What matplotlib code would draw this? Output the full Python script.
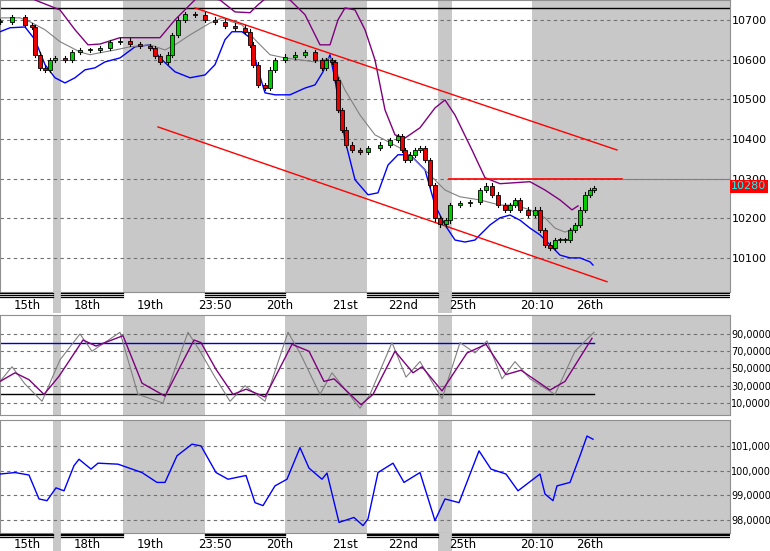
import matplotlib.pyplot as plt
import numpy as np

# x positions are bar slots across the chart (0..730)
px = [0, 12, 25, 32, 35, 40, 45, 50, 55, 65, 72, 80, 90, 100, 110, 120, 130, 140, 150, 155,
      160, 168, 172, 178, 185, 195, 205, 215, 225, 235, 245, 250, 253, 258, 265, 270, 275, 285,
      295, 305, 315, 322, 326, 332, 335, 338, 342, 346, 352, 360, 368, 380, 390, 398, 402, 405,
      410, 415, 420, 425, 430, 435, 440, 446, 450, 460, 470, 480, 486, 492, 498, 505, 510, 515,
      520, 528, 535, 540, 545, 550, 555, 560, 565, 570, 575, 580, 585, 590, 594]
close = [10695, 10707, 10687, 10682, 10612, 10579, 10574, 10599, 10604, 10599, 10619, 10624,
         10624, 10629, 10644, 10647, 10639, 10634, 10629, 10609, 10594, 10612, 10662, 10700,
         10715, 10713, 10700, 10695, 10685, 10680, 10670, 10637, 10587, 10536, 10528, 10574,
         10599, 10607, 10612, 10619, 10599, 10579, 10599, 10594, 10549, 10473, 10423, 10385,
         10372, 10367, 10377, 10385, 10397, 10407, 10372, 10347, 10360, 10372, 10377, 10347,
         10284, 10200, 10185, 10195, 10233, 10238, 10241, 10271, 10282, 10259, 10233, 10221,
         10233, 10246, 10221, 10208, 10221, 10170, 10133, 10125, 10145, 10145, 10145, 10170,
         10183, 10221, 10259, 10271, 10276]

up_x = [35, 60, 75, 88, 100, 120, 140, 160, 175, 190, 200, 220, 235, 250, 258, 270, 290, 305,
        320, 330, 338, 345, 355, 365, 375, 385, 395, 405, 420, 435, 445, 455, 472, 485, 500, 530,
        545, 560, 572, 578]
up_y = [10750, 10725, 10675, 10637, 10639, 10655, 10655, 10655, 10700, 10738, 10763, 10750,
        10720, 10718, 10738, 10763, 10750, 10713, 10637, 10637, 10700, 10730, 10725, 10675,
        10599, 10473, 10410, 10402, 10428, 10478, 10498, 10460, 10372, 10302, 10287, 10292,
        10271, 10246, 10221, 10231]
lo_x = [0, 10, 25, 35, 45, 55, 65, 75, 85, 95, 105, 120, 135, 150, 160, 175, 190, 205, 215, 225,
        232, 242, 250, 258, 265, 275, 290, 305, 315, 323, 330, 335, 345, 355, 368, 378, 388, 398,
        410, 425, 435, 445, 455, 465, 475, 480, 490, 500, 510, 520, 530, 540, 550, 560, 570, 580,
        590, 593]
lo_y = [10670, 10680, 10682, 10650, 10587, 10554, 10541, 10554, 10574, 10579, 10594, 10604,
        10632, 10637, 10604, 10569, 10554, 10561, 10587, 10650, 10670, 10670, 10655, 10574,
        10516, 10511, 10511, 10528, 10536, 10569, 10612, 10549, 10397, 10297, 10259, 10264,
        10334, 10360, 10360, 10322, 10233, 10183, 10145, 10140, 10145, 10158, 10183, 10201,
        10208, 10195, 10175, 10158, 10133, 10107, 10100, 10100, 10090, 10082]
mid_x = [0, 20, 30, 45, 60, 80, 90, 100, 115, 130, 150, 165, 175, 190, 210, 222, 232, 242, 255,
         270, 285, 300, 315, 330, 345, 360, 375, 385, 400, 415, 430, 445, 460, 480, 500, 515, 530,
         545, 555, 565, 575, 580]
mid_y = [10705, 10705, 10695, 10675, 10645, 10619, 10612, 10617, 10624, 10632, 10637, 10624,
         10637, 10662, 10692, 10705, 10695, 10687, 10650, 10612, 10604, 10599, 10594, 10604,
         10523, 10460, 10410, 10397, 10377, 10347, 10309, 10271, 10254, 10246, 10233, 10233,
         10221, 10201, 10175, 10165, 10175, 10183]

st_slow_x = [0, 15, 29, 44, 59, 83, 96, 123, 142, 165, 194, 201, 216, 233, 246, 265, 292, 309,
             324, 334, 361, 373, 395, 413, 422, 442, 467, 486, 506, 521, 550, 565, 592]
st_slow = [35, 45, 37, 20, 41, 83, 76, 88, 33, 18, 83, 80, 49, 20, 26, 17, 78, 70, 35, 38, 8, 20,
           70, 45, 52, 24, 68, 78, 43, 48, 25, 35, 85]
st_fast_x = [0, 12, 25, 42, 60, 80, 92, 120, 138, 163, 188, 200, 215, 230, 245, 265, 288, 300,
             320, 332, 360, 370, 392, 406, 420, 442, 460, 475, 487, 502, 515, 530, 555, 575, 594]
st_fast = [35, 52, 32, 12, 60, 90, 70, 92, 20, 10, 92, 70, 40, 12, 30, 12, 92, 68, 20, 45, 4, 20,
           80, 40, 58, 15, 80, 68, 82, 38, 58, 38, 20, 70, 92]

mo_x = [0, 15, 29, 39, 47, 56, 64, 74, 79, 91, 98, 118, 142, 157, 165, 177, 192, 201, 216, 228,
        246, 255, 263, 275, 287, 300, 309, 322, 327, 339, 354, 363, 368, 378, 393, 404, 420, 435,
        445, 459, 479, 491, 506, 518, 540, 545, 553, 557, 570, 580, 587, 593]
mo = [99.86, 99.92, 99.82, 98.85, 98.78, 99.3, 99.18, 100.2, 100.46, 100.06, 100.3, 100.26,
      99.92, 99.52, 99.52, 100.6, 101.07, 101.0, 99.92, 99.65, 99.8, 98.7, 98.58, 99.38, 99.65,
      100.93, 100.1, 99.65, 99.9, 97.9, 98.1, 97.77, 98.04, 99.92, 100.3, 99.52, 99.92, 97.97,
      98.85, 98.7, 100.8, 100.06, 99.86, 99.18, 99.86, 99.05, 98.78, 99.38, 99.52, 100.6, 101.4,
      101.27]

shade = [(53, 61), (123, 205), (285, 367), (438, 452), (532, 730)]
gaps = [(53, 61), (438, 452)]
day_x = [27, 87, 150, 215, 280, 345, 403, 463, 537, 590]
day_lbl = ['15th', '18th', '19th', '23:50', '20th', '21st', '22nd', '25th', '20:10', '26th']
seps = [(0, 53), (61, 123), (205, 285), (367, 438), (452, 730)]

W, H = 770, 551
fig = plt.figure(figsize=(7.7, 5.51), dpi=100, facecolor='white')


def mk(top, bot):
    ax = fig.add_axes([0, 1 - bot / H, 730 / W, (bot - top) / H])
    ax.set_xlim(0, 730)
    for a, b in shade:
        ax.axvspan(a, b, color='#c8c8c8', lw=0, zorder=0)
    ax.tick_params(axis='y', right=True, left=False, labelright=True, labelleft=False,
                   length=0, labelsize=8, pad=1)
    ax.set_xticks([])
    for s in ax.spines.values():
        s.set_color('#909090')
    return ax


def strip(top, bot):
    ax = fig.add_axes([0, 1 - bot / H, 730 / W, (bot - top) / H])
    ax.set_xlim(0, 730)
    ax.set_ylim(0, 1)
    ax.axis('off')
    for a, b in gaps:
        ax.axvspan(a, b, ymin=0, ymax=1, color='#c8c8c8', lw=0, zorder=0)
    for a, b in seps:
        for yy in (0.97, 0.87, 0.77):
            ax.plot([a, b], [yy, yy], color='black', lw=0.9)
    for x, t in zip(day_x, day_lbl):
        ax.text(x, 0.35, t, ha='center', va='center', fontsize=8.5)
    return ax


grid = dict(color='#707070', ls=(0, (3, 3)), lw=0.8, zorder=1)

# main price panel
ax1 = mk(0, 292)
ax1.set_ylim(10014, 10750)
for v in range(10100, 10800, 100):
    ax1.axhline(v, **grid)
ax1.set_yticks(range(10100, 10800, 100))
ax1.axhline(10730, color='black', lw=1, zorder=2)
ax1.plot(up_x, up_y, color='purple', lw=1, zorder=3)
ax1.plot(lo_x, lo_y, color='blue', lw=1, zorder=3)
ax1.plot(mid_x, mid_y, color='gray', lw=0.8, zorder=3)
ax1.plot([195, 617], [10730, 10372], color='red', lw=1, zorder=3)
ax1.plot([158, 607], [10430, 10040], color='red', lw=1, zorder=3)
ax1.plot([449, 622], [10299, 10299], color='red', lw=1.2, zorder=3)
ax1.plot([622, 730], [10299, 10299], color='gray', lw=0.8, zorder=3)
opens = [close[0]] + close[:-1]
for i, x in enumerate(px):
    o, c = opens[i], close[i]
    hi, lo = max(o, c) + 6, min(o, c) - 6
    ax1.plot([x, x], [lo, hi], color='black', lw=0.8, zorder=4)
    col = '#00cc00' if c >= o else '#ee0000'
    ax1.bar(x, max(abs(c - o), 2), bottom=min(o, c), width=3.2, color=col,
            edgecolor='black', lw=0.6, zorder=5)
ax1.text(731, 10280, '10280', color='cyan', fontsize=8, va='center', ha='left',
         bbox=dict(facecolor='red', edgecolor='none', pad=1), clip_on=False)

strip(292, 313)

# stochastic panel
ax2 = mk(315, 415)
ax2.set_ylim(-3.9, 112)
for v in range(10, 100, 20):
    ax2.axhline(v, **grid)
ax2.set_yticks(range(10, 100, 20))
ax2.set_yticklabels(['%d,0000' % v for v in range(10, 100, 20)], fontsize=7)
ax2.plot([0, 594], [80, 80], color='#0000cc', lw=1, zorder=2)
ax2.plot([0, 594], [20, 20], color='black', lw=1, zorder=2)
ax2.plot(st_fast_x, st_fast, color='gray', lw=0.8, zorder=3)
ax2.plot(st_slow_x, st_slow, color='purple', lw=1, zorder=4)

# momentum panel
ax3 = mk(420, 533)
ax3.set_ylim(97.47, 102.05)
for v in range(98, 102):
    ax3.axhline(v, **grid)
ax3.set_yticks(range(98, 102))
ax3.set_yticklabels(['%d,0000' % v for v in range(98, 102)], fontsize=7)
ax3.plot(mo_x, mo, color='blue', lw=1, zorder=3)

strip(533, 551)

fig.savefig('out.png', dpi=100)
